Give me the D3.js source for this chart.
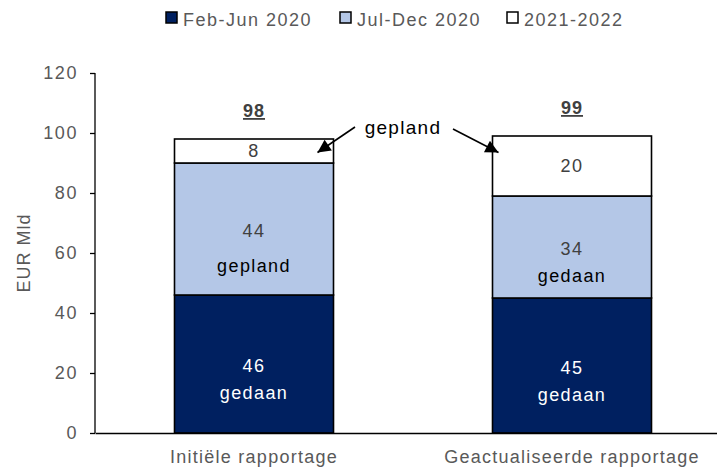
<!DOCTYPE html>
<html>
<head>
<meta charset="utf-8">
<script src="https://cdn.jsdelivr.net/npm/d3@7"></script>
<style>
  html, body { margin: 0; padding: 0; background: #fff; }
  svg text { font-family: "Liberation Sans", Arial, sans-serif; }
</style>
</head>
<body>
<svg id="chart" width="717" height="475"></svg>
<script>
// Reports and their three stacked periods (EUR bn)
const categories = ["Initiële rapportage", "Geactualiseerde rapportage"];
const seriesNames = ["Feb-Jun 2020", "Jul-Dec 2020", "2021-2022"];
const febJun2020 = [46, 45];
const julDec2020 = [44, 34];
const y2021_2022 = [8, 20];
const totals = [98, 99];
// status word written under the value in each segment ("" = none)
const statusFebJun = ["gedaan", "gedaan"];
const statusJulDec = ["gepland", "gedaan"];
const yTicks = [0, 20, 40, 60, 80, 100, 120];
const yTitle = "EUR Mld";
const calloutText = "gepland";

const colors = ["#002060", "#B4C7E7", "#FFFFFF"];
const valueColors = ["#FFFFFF", "#404040", "#404040"];
const wordColors = ["#FFFFFF", "#000000", "#000000"];

const svg = d3.select("#chart");
const margin = { left: 95, top: 73, bottom: 433, right: 731 };

const y = d3.scaleLinear().domain([0, 120]).range([margin.bottom, margin.top]);
const x = d3.scaleBand().domain(categories).range([margin.left, margin.right])
  .paddingInner(0.5).paddingOuter(0.25);

const seriesValues = [febJun2020, julDec2020, y2021_2022];
const statusWords = [statusFebJun, statusJulDec, ["", ""]];

// stack the three periods per report
const rows = categories.map((c, i) => {
  const r = { cat: c };
  seriesNames.forEach((s, k) => { r[s] = seriesValues[k][i]; });
  return r;
});
const stacked = d3.stack().keys(seriesNames)(rows);

const textFont = "18px";
const spacing = "1.4px";
const gray = "#595959";

// bars
stacked.forEach((layer, k) => {
  svg.append("g").selectAll("rect").data(layer).join("rect")
    .attr("x", d => x(d.data.cat))
    .attr("width", x.bandwidth())
    .attr("y", d => y(d[1]))
    .attr("height", d => y(d[0]) - y(d[1]))
    .attr("fill", colors[k])
    .attr("stroke", "#000")
    .attr("stroke-width", 1.6);
});

// segment labels: value, then status word below it
stacked.forEach((layer, k) => {
  layer.forEach((d, i) => {
    const cx = x(d.data.cat) + x.bandwidth() / 2;
    const mid = (y(d[0]) + y(d[1])) / 2;
    const word = statusWords[k][i];
    const vy = word ? mid + 2 : mid;
    svg.append("text")
      .attr("x", cx).attr("y", vy)
      .attr("dy", "0.35em")
      .attr("text-anchor", "middle")
      .attr("font-size", textFont)
      .attr("letter-spacing", spacing)
      .attr("fill", valueColors[k])
      .text(seriesValues[k][i]);
    if (word) {
      svg.append("text")
        .attr("x", cx).attr("y", vy + (k === 1 && i === 0 ? 35 : 27))
        .attr("dy", "0.35em")
        .attr("text-anchor", "middle")
        .attr("font-size", textFont)
        .attr("letter-spacing", spacing)
        .attr("fill", wordColors[k])
        .text(word);
    }
  });
});

// totals above bars, bold and underlined
categories.forEach((c, i) => {
  svg.append("text")
    .attr("x", x(c) + x.bandwidth() / 2)
    .attr("y", y(totals[i]) - 22)
    .attr("text-anchor", "middle")
    .attr("font-size", textFont)
    .attr("letter-spacing", "1px")
    .attr("font-weight", "bold")
    .attr("text-decoration", "underline")
    .attr("fill", "#404040")
    .text(totals[i]);
});

// y axis
const yAxis = d3.axisLeft(y).tickValues(yTicks).tickSize(5).tickPadding(12);
const gy = svg.append("g").attr("transform", `translate(${margin.left},0)`).call(yAxis);
gy.select(".domain").attr("stroke", "#000").attr("stroke-width", 1.3)
  .attr("d", `M0,${margin.top}V${margin.bottom}`);
gy.selectAll(".tick line").attr("stroke", "#000").attr("stroke-width", 1.3);
gy.selectAll(".tick text")
  .attr("font-size", "18px")
  .attr("letter-spacing", "1.6px")
  .attr("fill", gray)
  .style("font-family", "'Liberation Sans', Arial, sans-serif");

// x axis
const xAxis = d3.axisBottom(x).tickSize(0).tickPadding(17);
const gx = svg.append("g").attr("transform", `translate(0,${margin.bottom})`).call(xAxis);
gx.select(".domain").attr("stroke", "#000").attr("stroke-width", 1.3);
gx.selectAll(".tick text")
  .attr("font-size", "18px")
  .attr("letter-spacing", "1.25px")
  .attr("fill", gray)
  .style("font-family", "'Liberation Sans', Arial, sans-serif");

// y axis title
svg.append("text")
  .attr("transform", `translate(30,${(margin.top + margin.bottom) / 2}) rotate(-90)`)
  .attr("text-anchor", "middle")
  .attr("font-size", "18px")
  .attr("letter-spacing", "1px")
  .attr("fill", gray)
  .text(yTitle);

// callout pointing at the 2021-2022 segments
svg.append("defs").append("marker")
  .attr("id", "head")
  .attr("viewBox", "0 0 10 10")
  .attr("refX", 10).attr("refY", 5)
  .attr("markerUnits", "userSpaceOnUse")
  .attr("markerWidth", 15).attr("markerHeight", 13)
  .attr("orient", "auto")
  .append("path").attr("d", "M0,0L10,5L0,10Z").attr("fill", "#000");

const calloutX = (x(categories[0]) + x.bandwidth() + x(categories[1])) / 2 - 10;
const calloutY = y(totals[0]) - 5;
svg.append("text")
  .attr("x", calloutX).attr("y", calloutY)
  .attr("text-anchor", "middle")
  .attr("font-size", "19px")
  .attr("letter-spacing", "1.3px")
  .attr("fill", "#000")
  .text(calloutText);

const tipY = y(totals[0] - 4.5);
svg.append("line")
  .attr("x1", calloutX - 48).attr("y1", calloutY - 7)
  .attr("x2", x(categories[0]) + x.bandwidth() - 16).attr("y2", tipY)
  .attr("stroke", "#000").attr("stroke-width", 1.6)
  .attr("marker-end", "url(#head)");
svg.append("line")
  .attr("x1", calloutX + 50).attr("y1", calloutY - 5)
  .attr("x2", x(categories[1]) + 6).attr("y2", tipY)
  .attr("stroke", "#000").attr("stroke-width", 1.6)
  .attr("marker-end", "url(#head)");

// legend
const legendX = [166, 340, 507];
seriesNames.forEach((s, k) => {
  const g = svg.append("g").attr("transform", `translate(${legendX[k]},12)`);
  g.append("rect").attr("width", 11).attr("height", 11)
    .attr("fill", colors[k]).attr("stroke", "#000").attr("stroke-width", 1.5);
  g.append("text").attr("x", 17).attr("y", 13.5)
    .attr("font-size", "18px")
    .attr("letter-spacing", "1.5px")
    .attr("fill", gray)
    .text(s);
});
</script>
</body>
</html>
